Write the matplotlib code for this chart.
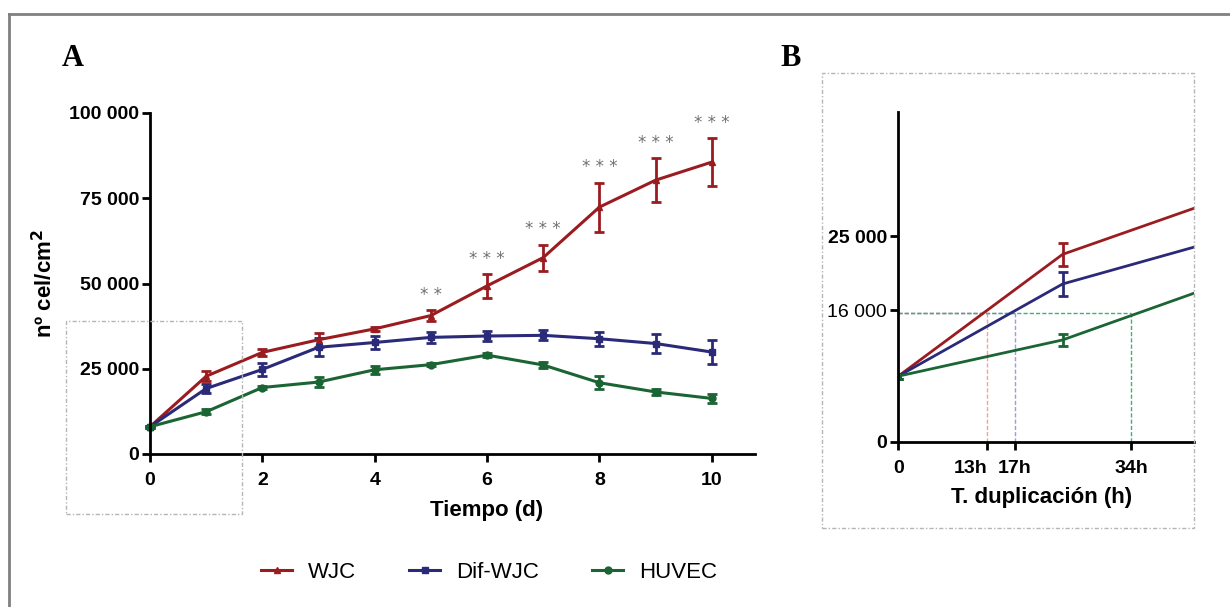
import numpy as np
import matplotlib.pyplot as plt
from matplotlib.lines import Line2D
from matplotlib.patches import Rectangle
from matplotlib.ticker import FuncFormatter

plt.rcParams['font.family'] = ['Liberation Sans', 'DejaVu Sans']

# datos: crecimiento celular (media y error) por dia
days = np.arange(0, 11)
wjc_mean = [8000, 22800, 29800, 33500, 36700, 40600, 49300, 57600, 72400, 80300, 85600]
wjc_err = [300, 1400, 1100, 2000, 600, 1500, 3500, 3800, 7200, 6400, 7000]
dif_mean = [8000, 19200, 24800, 31300, 32700, 34200, 34600, 34800, 33800, 32400, 29900]
dif_err = [300, 1400, 2000, 2700, 1800, 1700, 1500, 1500, 2000, 2700, 3600]
huv_mean = [8000, 12400, 19500, 21100, 24700, 26200, 29000, 26100, 20900, 18200, 16300]
huv_err = [300, 700, 500, 1400, 1200, 500, 500, 1000, 1900, 1000, 1300]
sig = ['', '', '', '', '', '**', '***', '***', '***', '***', '***']

series = ['WJC', 'Dif-WJC', 'HUVEC']
colors = ['#9b1c20', '#2a2a78', '#1b6434']
markers = ['^', 's', 'o']
means = [wjc_mean, dif_mean, huv_mean]
errs = [wjc_err, dif_err, huv_err]

# panel B: tiempo de duplicacion
hours = days * 24
umbral = 15700
t_dup = [13, 17, 34]
dup_colors = ['#f2a0a0', '#9c9ce0', '#3cb371']

W, H = 1230, 607
fig = plt.figure(figsize=(W / 100, H / 100), dpi=100)


def px(l, b, r, t):
    return [l / W, (H - b) / H, (r - l) / W, (b - t) / H]


fmt = FuncFormatter(lambda v, p: f"{int(v):,}".replace(",", " "))

# marco exterior
fig.add_artist(Line2D([9 / W, 1], [1 - 14 / H, 1 - 14 / H], color='#808080', lw=2))
fig.add_artist(Line2D([9 / W, 9 / W], [0, 1 - 14 / H], color='#808080', lw=2))

# recuadros punteados
box_style = dict(fill=False, ec='#b5b5b5', lw=1, ls=(0, (3, 1.5, 1, 1.5)))
fig.add_artist(Rectangle((66 / W, 1 - 514 / H), 176 / W, 193 / H, transform=fig.transFigure, **box_style))
fig.add_artist(Rectangle((822 / W, 1 - 528 / H), 372 / W, 455 / H, transform=fig.transFigure, **box_style))

# ---- panel A ----
axA = fig.add_axes(px(150, 454, 755, 113))
for m, e, c, mk in zip(means, errs, colors, markers):
    cont = axA.errorbar(days, m, yerr=e, color=c, lw=2.2, marker=mk, ms=5,
                        capsize=3.5, capthick=2, elinewidth=2)
    for ch in cont.get_children():
        ch.set_clip_on(False)

for i, s in enumerate(sig):
    if s:
        axA.annotate(' '.join(s), (days[i], wjc_mean[i] + wjc_err[i]),
                     xytext=(0, 11), textcoords='offset points', ha='center',
                     va='center', color='#707070', fontsize=12,
                     family='DejaVu Sans')

axA.set_xlim(0, 10.77)
axA.set_ylim(0, 100000)
axA.set_xticks([0, 2, 4, 6, 8, 10])
axA.set_yticks([0, 25000, 50000, 75000, 100000])
axA.yaxis.set_major_formatter(fmt)
axA.set_xlabel('Tiempo (d)', fontsize=16, fontweight='bold')
axA.set_ylabel('nº cel/cm$^\\mathbf{2}$', fontsize=16, fontweight='bold')
axA.xaxis.set_label_coords(0.557, -0.135)
axA.yaxis.set_label_coords(-0.154, 0.5)

# ---- panel B ----
axB = fig.add_axes(px(898.3, 442, 1194, 112))
for m, e, c in zip(means, errs, colors):
    axB.errorbar(hours, m, yerr=e, color=c, lw=2, marker='o', ms=4,
                 markevery=[0], capsize=3.5, capthick=2, elinewidth=2)
for t, c in zip(t_dup, dup_colors):
    axB.plot([0, t], [umbral, umbral], color=c, lw=1, ls=(0, (3, 1.5)), zorder=1)
    axB.plot([t, t], [0, umbral], color=c, lw=1, ls=(0, (3, 1.5)), zorder=1)

axB.set_xlim(0, 43.2)
axB.set_ylim(0, 40100)
axB.set_xticks([0] + t_dup)
axB.set_xticklabels(['0'] + [f'{t}h' for t in t_dup])
axB.set_yticks([0, 16000, 25000])
axB.yaxis.set_major_formatter(fmt)
axB.set_xlabel('T. duplicación (h)', fontsize=16, fontweight='bold')
axB.xaxis.set_label_coords(0.483, -0.136)

for ax in (axA, axB):
    for sp in ('top', 'right'):
        ax.spines[sp].set_visible(False)
    for sp in ('left', 'bottom'):
        ax.spines[sp].set_linewidth(2)
    ax.tick_params(axis='both', width=2, length=6, labelsize=14)
    ax.tick_params(axis='x', pad=7)
    ax.tick_params(axis='y', pad=2)
    for lab in ax.get_xticklabels() + ax.get_yticklabels():
        lab.set_fontweight('bold')

axB.get_yticklabels()[1].set_fontweight('normal')
axB.get_xticklabels()[1].set_horizontalalignment('right')

# letras de panel
fig.text(62 / W, 1 - 66 / H, 'A', family='Liberation Serif', fontweight='bold', fontsize=22)
fig.text(780 / W, 1 - 66 / H, 'B', family='Liberation Serif', fontweight='bold', fontsize=22)

# leyenda
handles = [Line2D([], [], color=c, marker=mk, lw=2.2, ms=5) for c, mk in zip(colors, markers)]
fig.legend(handles, series, loc='center', bbox_to_anchor=(489 / W, 1 - 572 / H),
           ncol=3, frameon=False, fontsize=16, handlelength=1.4,
           handletextpad=0.7, columnspacing=2.4)

fig.savefig('out.png', dpi=100)
